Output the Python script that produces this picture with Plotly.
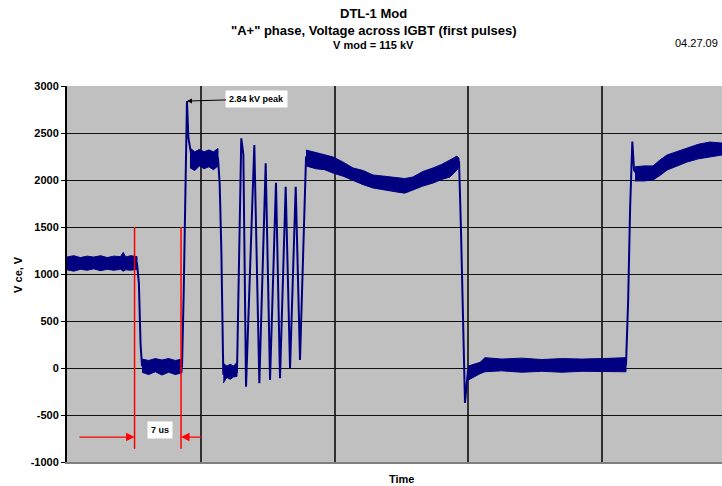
import plotly.graph_objects as go

# ---------------- data (time in us, Vce in V) -------------
# centre line of the trace
t_trace = [0.0, 10.47, 10.75, 11.0, 11.21, 17.20, 17.45, 17.94, 18.15, 18.6, 22.58, 22.83, 23.08, 23.23,
           23.37, 25.42, 26.06, 26.37, 26.77, 28.01, 28.76, 29.71, 30.36, 31.25, 31.85, 32.70, 33.35,
           34.20, 34.84, 35.74, 39.78, 42.77, 45.76, 49.35, 51.74, 54.73, 57.27, 58.32, 58.62, 58.9,
           59.2, 59.51, 59.96, 60.5, 61.76, 83.59, 83.9, 84.2, 84.53, 84.79, 85.23, 87.63, 89.72,
           92.71, 96.15, 97.94]
v_trace = [1115, 1115, 900, 250, 30, 20, 800, 2840, 2450, 2260, 2230, 1960, 1250, 540,
           -60, -40, 2443, 2270, -199, 2372, -163, 2177, -128, 1971, -110, 1929, -4,
           1929, 85, 2240, 2160, 2065, 1985, 1945, 1960, 2050, 2120, 2180, 2200, 1500,
           600, -372, -21, -50, 30, 40, 700, 1700, 2408, 2106, 2065, 2075, 2185,
           2265, 2325, 2330]

# noise envelopes of the flat parts (time, upper, lower)
band_a_t = [0.0, 1.0, 2.0, 3.0, 4.0, 5.0, 6.0, 7.0, 8.0, 8.4, 8.8, 9.5, 10.47]
band_a_hi = [1180, 1195, 1175, 1190, 1180, 1195, 1175, 1190, 1185, 1230, 1180, 1195, 1185]
band_a_lo = [1045, 1030, 1050, 1040, 1055, 1035, 1050, 1040, 1050, 1030, 1045, 1040, 1050]

band_b_t = [11.21, 12.2, 13.2, 14.2, 15.2, 16.2, 17.2]
band_b_hi = [95, 80, 100, 85, 100, 80, 95]
band_b_lo = [-45, -70, -40, -75, -45, -70, -50]

band_c_t = [18.39, 19.1, 19.8, 20.5, 21.2, 21.9, 22.58]
band_c_hi = [2340, 2300, 2325, 2300, 2320, 2300, 2335]
band_c_lo = [2130, 2100, 2150, 2120, 2140, 2110, 2150]

band_d_t = [23.37, 23.9, 24.4, 24.9, 25.42]
band_d_hi = [50, 20, 40, 20, 60]
band_d_lo = [-160, -100, -120, -95, -90]

band_e_t = [35.74, 37.2, 38.5, 39.78, 41.3, 42.77, 44.3, 45.76, 47.5, 49.35, 50.5, 51.74, 53.2,
            54.73, 56.0, 57.27, 58.32, 58.62]
band_e_hi = [2319, 2290, 2270, 2245, 2190, 2128, 2100, 2053, 2040, 2021, 2015, 2032, 2090,
             2128, 2165, 2213, 2255, 2230]
band_e_lo = [2150, 2120, 2110, 2074, 2040, 2000, 1950, 1915, 1895, 1872, 1860, 1894, 1935,
             1968, 2005, 2032, 2106, 2150]

band_f_t = [59.96, 61.0, 61.76, 62.5, 65.0, 68.0, 71.0, 74.0, 77.0, 80.0, 83.59]
band_f_hi = [20, 40, 60, 110, 95, 105, 90, 100, 95, 100, 110]
band_f_lo = [-130, -90, -60, -40, -30, -45, -35, -45, -35, -40, -40]

band_g_t = [84.94, 86.3, 87.63, 88.7, 89.72, 91.2, 92.71, 94.4, 96.15, 97.94]
band_g_hi = [2140, 2150, 2150, 2215, 2266, 2300, 2340, 2380, 2404, 2393]
band_g_lo = [1990, 1990, 2000, 2050, 2106, 2150, 2191, 2225, 2245, 2266]

# y axis ticks
y_ticks = [-1000, -500, 0, 500, 1000, 1500, 2000, 2500, 3000]

# markers drawn on the chart
marker_t1, marker_t2 = 10.1, 17.05
marker_top, marker_bottom = 1500, -860
arrow_v = -735
peak_t, peak_v = 17.94, 2840

NAVY = "#000080"
FONT = "Arial, Liberation Sans, sans-serif"

fig = go.Figure()

bands = [(band_a_t, band_a_hi, band_a_lo), (band_b_t, band_b_hi, band_b_lo),
         (band_c_t, band_c_hi, band_c_lo), (band_d_t, band_d_hi, band_d_lo),
         (band_e_t, band_e_hi, band_e_lo), (band_f_t, band_f_hi, band_f_lo),
         (band_g_t, band_g_hi, band_g_lo)]
for bt, hi, lo in bands:
    fig.add_trace(go.Scatter(x=bt + bt[::-1], y=hi + lo[::-1], mode="lines", fill="toself",
                             fillcolor=NAVY, line=dict(color=NAVY, width=1),
                             hoverinfo="skip", showlegend=False))

fig.add_trace(go.Scatter(x=t_trace, y=v_trace, mode="lines",
                         line=dict(color=NAVY, width=2), showlegend=False))

# red marker lines
for mt in (marker_t1, marker_t2):
    fig.add_shape(type="line", xref="x", yref="y", x0=mt, x1=mt, y0=marker_top, y1=marker_bottom,
                  line=dict(color="#FF0000", width=1.5))

annotations = [
    dict(x=marker_t1, y=arrow_v, ax=1.64, ay=arrow_v, xref="x", yref="y", axref="x", ayref="y",
         text="", showarrow=True, arrowhead=2, arrowsize=1.3, arrowwidth=1.3, arrowcolor="#FF0000"),
    dict(x=marker_t2, y=arrow_v, ax=20.34, ay=arrow_v, xref="x", yref="y", axref="x", ayref="y",
         text="", showarrow=True, arrowhead=2, arrowsize=1.3, arrowwidth=1.3, arrowcolor="#FF0000"),
    dict(x=13.9, y=-660, xref="x", yref="y", text="<b>7 us</b>", showarrow=False,
         bgcolor="white", borderpad=3, font=dict(family=FONT, size=9, color="black")),
    dict(x=peak_t, y=peak_v, xref="x", yref="y", ax=70, ay=-2, text="<b>2.84 kV peak</b>",
         showarrow=True, arrowhead=2, arrowsize=1, arrowwidth=1, arrowcolor="black",
         bgcolor="white", borderpad=3, font=dict(family=FONT, size=9, color="black")),
    dict(x=0.4687, y=1.1915, xref="paper", yref="paper", text="<b>DTL-1 Mod</b>", showarrow=False,
         font=dict(family=FONT, size=13, color="black"), xanchor="center", yanchor="middle"),
    dict(x=0.4687, y=1.1463, xref="paper", yref="paper",
         text="<b>\"A+\" phase, Voltage across IGBT (first pulses)</b>", showarrow=False,
         font=dict(family=FONT, size=13, color="black"), xanchor="center", yanchor="middle"),
    dict(x=0.4687, y=1.109, xref="paper", yref="paper", text="<b>V mod = 115 kV</b>", showarrow=False,
         font=dict(family=FONT, size=11, color="black"), xanchor="center", yanchor="middle"),
    dict(x=0.997, y=1.114, xref="paper", yref="paper", text="04.27.09", showarrow=False,
         font=dict(family=FONT, size=11, color="black"), xanchor="right", yanchor="middle"),
    dict(x=0.51, y=-0.046, xref="paper", yref="paper", text="<b>Time</b>", showarrow=False,
         font=dict(family=FONT, size=11, color="black"), xanchor="center", yanchor="middle"),
    dict(x=-0.075, y=0.5, xref="paper", yref="paper", text="<b>V ce, V</b>", showarrow=False,
         textangle=-90, font=dict(family=FONT, size=11, color="black"),
         xanchor="center", yanchor="middle"),
]

fig.update_layout(
    width=722, height=486,
    margin=dict(l=67, r=0, t=86, b=24),
    paper_bgcolor="white", plot_bgcolor="#C0C0C0",
    annotations=annotations,
    xaxis=dict(range=[0, 97.94], dtick=20, tick0=0, showticklabels=False, ticks="",
               showgrid=True, gridcolor="#303030", gridwidth=1.5, zeroline=False,
               showline=True, linecolor="#808080", linewidth=2),
    yaxis=dict(range=[-1000, 3000], tickvals=y_ticks, ticktext=[f"<b>{v}</b>" for v in y_ticks],
               ticks="outside", ticklen=4, tickcolor="black", tickwidth=1,
               tickfont=dict(family=FONT, size=11, color="black"),
               showgrid=True, gridcolor="#101010", gridwidth=1, zeroline=False,
               showline=True, linecolor="black", linewidth=2),
    showlegend=False,
)

fig.write_html("out.html", config={"displayModeBar": False},
               post_script="document.body.style.margin='0';document.body.style.overflow='hidden';")
